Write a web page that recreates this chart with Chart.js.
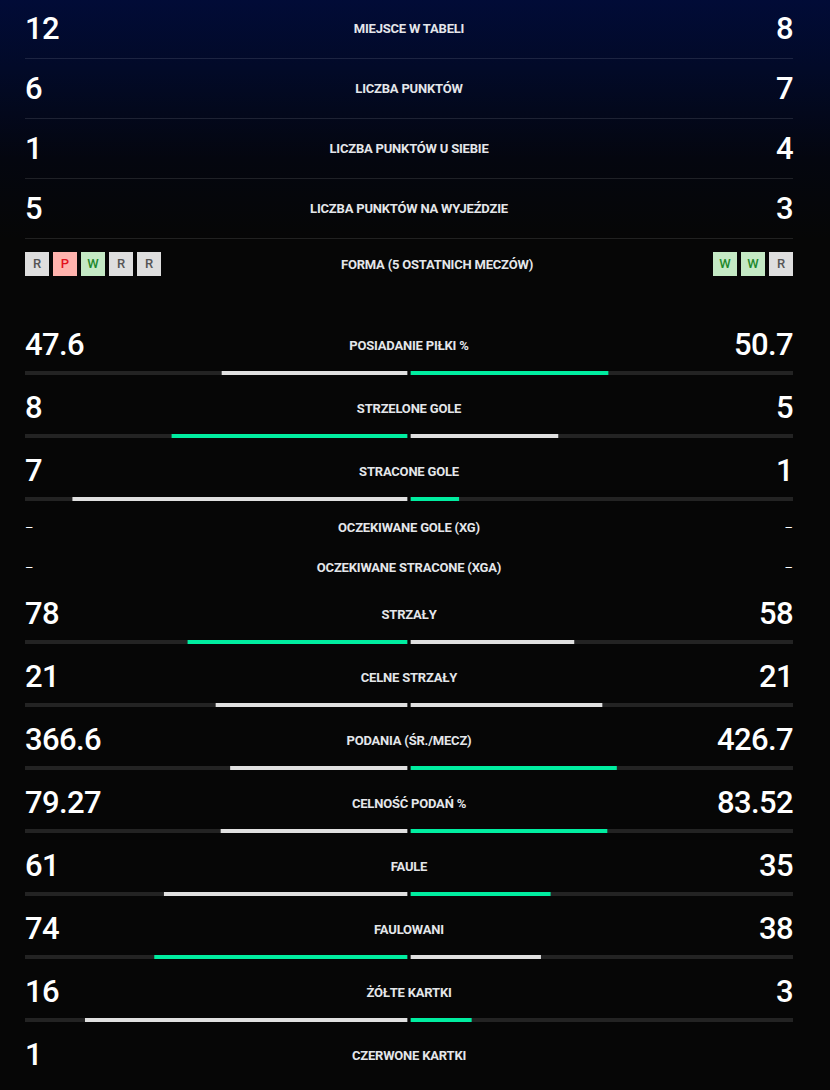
<!DOCTYPE html>
<html>
<head>
<meta charset="utf-8">
<script src="https://cdn.jsdelivr.net/npm/chart.js@4"></script>
<style>
  body { margin: 0; width: 830px; height: 1090px; overflow: hidden; background: #060606;
         font-family: Roboto, "Noto Sans", sans-serif; color: #fff; }
  #top { background: linear-gradient(#010b37 0px, #020a28 70px, #04060f 160px, #060606 240px); }
  .wrap { margin: 0 37px 0 25px; width: 768px; }
  .row { position: relative; display: flex; align-items: center; justify-content: space-between; }
  .trow { height: 59px; border-bottom: 1px solid rgba(255,255,255,0.11); }
  .val { font-size: 31px; font-weight: 500; letter-spacing: -0.6px; line-height: 34px; }
  .lbl { position: absolute; left: 0; right: 0; text-align: center; font-size: 13px; font-weight: 700;
         color: #e4e6ea; letter-spacing: -0.2px; }
  .form { height: 76px; padding-top: 13px; align-items: flex-start; }
  .form .lbl { position: static; flex: 1; margin-top: 5px; }
  .badges { display: flex; gap: 4px; }
  .badge { width: 24px; height: 24px; line-height: 24px; text-align: center; font-size: 13px; font-weight: 500; }
  .b-R { background: #dedede; color: #555; }
  .b-P { background: #ffb3ad; color: #e3101c; }
  .b-W { background: #c4e9c4; color: #1e8a2c; }
  .srow { height: 63px; }
  .srow .row { height: 34px; }
  .bar { position: relative; width: 768px; height: 4px; margin-top: 9px; }
  .xrow { height: 40px; }
  .xrow .row { height: 20px; }
  .dash { font-size: 13px; font-weight: 400; }
</style>
</head>
<body>
<div id="top"><div class="wrap" id="table" style="margin-top:-1px"></div></div>
<div class="wrap" id="stats"></div>
<script>
const tableLabels = ['MIEJSCE W TABELI', 'LICZBA PUNKTÓW', 'LICZBA PUNKTÓW U SIEBIE', 'LICZBA PUNKTÓW NA WYJEŹDZIE'];
const tableHome = [12, 6, 1, 5];
const tableAway = [8, 7, 4, 3];

const formLabel = 'FORMA (5 OSTATNICH MECZÓW)';
const formHome = ['R', 'P', 'W', 'R', 'R'];
const formAway = ['W', 'W', 'R'];

const statLabels = ['POSIADANIE PIŁKI %', 'STRZELONE GOLE', 'STRACONE GOLE', 'OCZEKIWANE GOLE (XG)',
  'OCZEKIWANE STRACONE (XGA)', 'STRZAŁY', 'CELNE STRZAŁY', 'PODANIA (ŚR./MECZ)', 'CELNOŚĆ PODAŃ %',
  'FAULE', 'FAULOWANI', 'ŻÓŁTE KARTKI', 'CZERWONE KARTKI'];
const statHome = [47.6, 8, 7, null, null, 78, 21, 366.6, 79.27, 61, 74, 16, 1];
const statAway = [50.7, 5, 1, null, null, 58, 21, 426.7, 83.52, 35, 38, 3, null];
const lowerIsBetter = [false, false, true, false, false, false, false, false, false, true, false, true, true];

const GREEN = '#00eda0', GREY = '#e0e0e0', TRACK = '#232323';
const g = 2 / 382; // half of the 4px centre gap, in half-track units

function el(tag, cls, html) {
  const e = document.createElement(tag);
  if (cls) e.className = cls;
  if (html !== undefined) e.innerHTML = html;
  return e;
}

const table = document.getElementById('table');
tableLabels.forEach((l, i) => {
  const r = el('div', 'row trow');
  r.append(el('div', 'val', tableHome[i]), el('div', 'lbl', l), el('div', 'val', tableAway[i]));
  table.append(r);
});
const fr = el('div', 'row form');
const bh = el('div', 'badges'), ba = el('div', 'badges');
formHome.forEach(f => bh.append(el('div', 'badge b-' + f, f)));
formAway.forEach(f => ba.append(el('div', 'badge b-' + f, f)));
fr.append(bh, el('div', 'lbl', formLabel), ba);
table.append(fr);

function barChart(canvas, home, away, lower) {
  const sum = home + away;
  const fl = home / sum, fa = away / sum;
  let lc = GREY, rc = GREY;
  if (home !== away) {
    const homeBetter = lower ? home < away : home > away;
    if (homeBetter) lc = GREEN; else rc = GREEN;
  }
  const ds = (d, c, o) => ({ data: [d], backgroundColor: c, order: o, grouped: false,
    barPercentage: 1, categoryPercentage: 1, borderWidth: 0 });
  new Chart(canvas, {
    type: 'bar',
    data: {
      labels: [''],
      datasets: [
        ds([-g - fl, -g], lc, 0),
        ds([g, g + fa], rc, 0),
        ds([-1 - g, -g], TRACK, 1),
        ds([g, 1 + g], TRACK, 1)
      ]
    },
    options: {
      indexAxis: 'y',
      responsive: true,
      maintainAspectRatio: false,
      animation: false,
      events: [],
      layout: { padding: 0 },
      plugins: { legend: { display: false }, tooltip: { enabled: false } },
      scales: {
        x: { type: 'linear', display: false, min: -1 - g, max: 1 + g },
        y: { display: false }
      }
    }
  });
}

const stats = document.getElementById('stats');
statLabels.forEach((l, i) => {
  const h = statHome[i], a = statAway[i];
  if (h === null && a === null) {
    const blk = el('div', 'xrow');
    const r = el('div', 'row');
    r.append(el('div', 'dash', '–'), el('div', 'lbl', l), el('div', 'dash', '–'));
    blk.append(r);
    stats.append(blk);
    return;
  }
  const blk = el('div', 'srow');
  const r = el('div', 'row');
  r.append(el('div', 'val', h === null ? '' : String(h)), el('div', 'lbl', l),
           el('div', 'val', a === null ? '' : String(a)));
  blk.append(r);
  if (h !== null && a !== null) {
    const b = el('div', 'bar');
    const c = document.createElement('canvas');
    b.append(c);
    blk.append(b);
    barChart(c, h, a, lowerIsBetter[i]);
  }
  stats.append(blk);
});
</script>
</body>
</html>
